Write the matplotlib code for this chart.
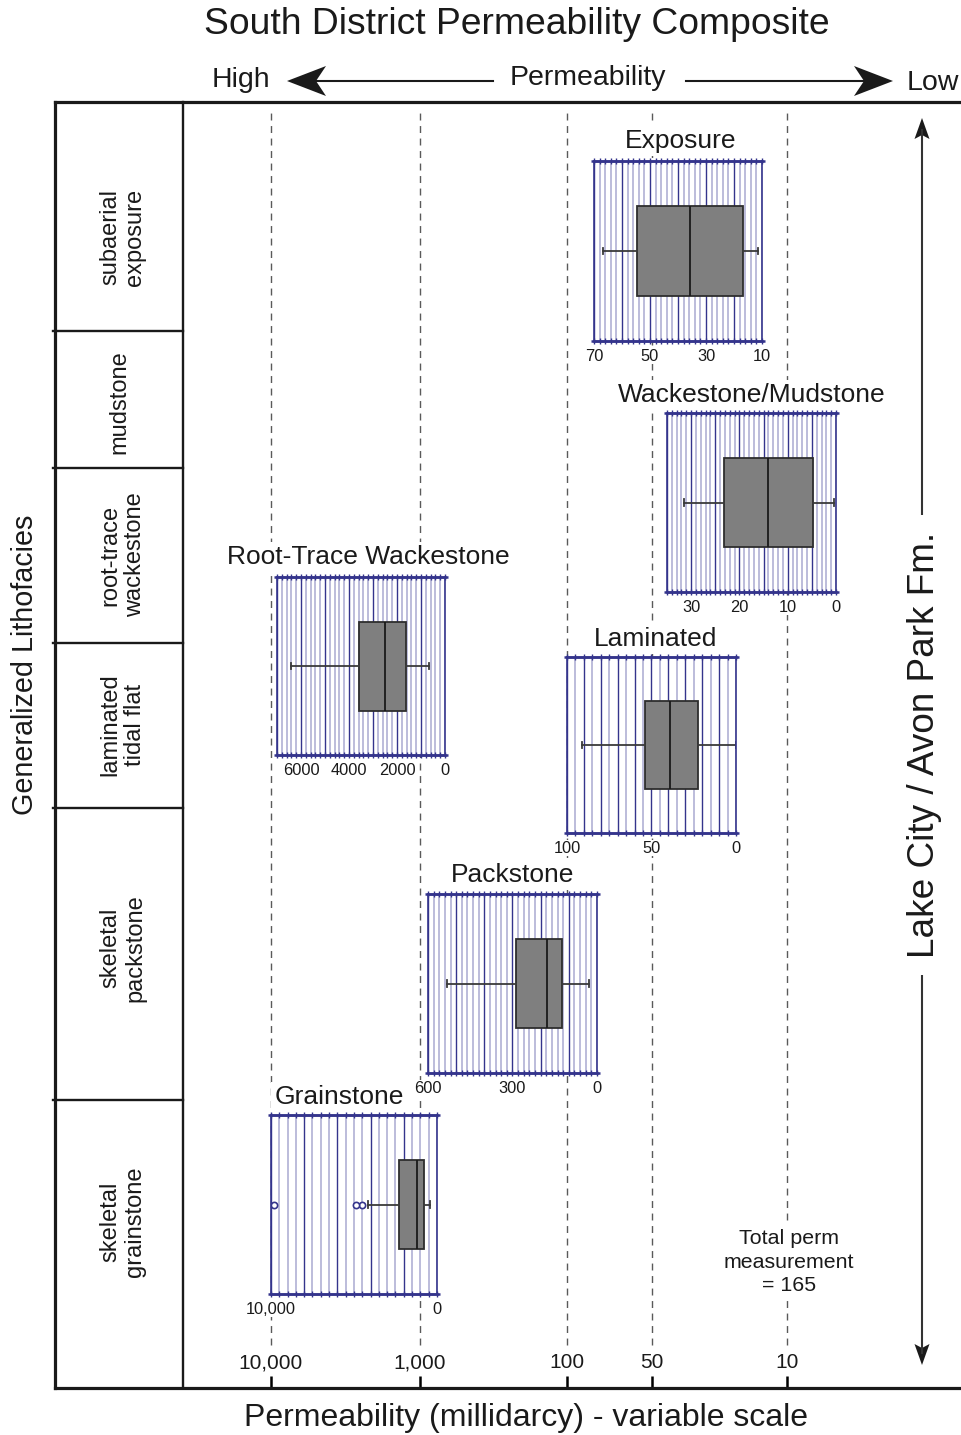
import numpy as np
import matplotlib
matplotlib.use("Agg")
import matplotlib.pyplot as plt
from matplotlib.ticker import MultipleLocator, FixedLocator, FuncFormatter, NullLocator
from matplotlib.patches import Polygon

plt.rcParams["font.family"] = ["Liberation Sans", "DejaVu Sans"]

# ---------------------------------------------------------------- data
facies = ["subaerial\nexposure", "mudstone", "root-trace\nwackestone",
          "laminated\ntidal flat", "skeletal\npackstone", "skeletal\ngrainstone"]

perm_ticks = [10000, 1000, 100, 50, 10]
perm_tick_labels = ["10,000", "1,000", "100", "50", "10"]

panel_titles = ["Exposure", "Wackestone/Mudstone", "Root-Trace Wackestone",
                "Laminated", "Packstone", "Grainstone"]
whisker_low = [11.3, 0.5, 650, 0.2, 28, 404]
quartile_1 = [16.7, 4.8, 1610, 22.7, 123, 765]
medians = [35.6, 14.0, 2490, 39.0, 177, 1187]
quartile_3 = [54.5, 23.1, 3570, 53.8, 288, 2271]
whisker_high = [66.9, 31.4, 6420, 91.1, 534, 4138]
outliers = [[], [], [], [], [], [4536, 4898, 9819]]
axis_high = [70, 35, 7000, 100, 600, 10000]
axis_low = [10, 0, 0, 0, 0, 0]
axis_labels = [[70, 50, 30, 10], [30, 20, 10, 0], [6000, 4000, 2000, 0],
               [100, 50, 0], [600, 300, 0], [10000, 5000, 0]]
total_measurements = 165

# ---------------------------------------------------------------- layout / style
W, H = 962, 1435
NAVY = "#34348c"
LAVENDER = "#b6b6d8"
INK = "#1a1a1a"

frame_px = (55, 102, 962, 1388)            # outer frame (x0, y0, x1, y1)
column_x = 183                             # right edge of lithofacies column
facies_edges = [102, 331, 468, 643, 808, 1100, 1388]
facies_label_xy = [(123, 237), (119, 402), (123, 555), (123, 725), (123, 948), (123, 1222)]
scale_anchor_px = [271, 420, 567, 652, 787]  # where the variable-scale ticks sit

panel_px = [(594, 161, 762, 341), (667, 413, 836, 592), (277, 577, 445, 755),
            (567, 657, 736, 833), (428, 894, 597, 1073), (271, 1115, 437, 1294)]
panel_title_xy = [(681, 141), (752, 395), (368, 557), (656, 639), (513, 875), (339, 1097)]
grid_major = [10, 5, 1000, 10, 100, 2000]
grid_minor = [2, 1, 200, 5, 20, 500]


def fig_rect(x0, y0, x1, y1):
    return [x0 / W, 1 - y1 / H, (x1 - x0) / W, (y1 - y0) / H]


fig = plt.figure(figsize=(W / 100, H / 100), dpi=100)

# ---------------------------------------------------------------- variable permeability scale
fx0, fy0, fx1, fy1 = frame_px
_xs = np.log10(np.array(perm_ticks, float))[::-1]                       # increasing log(k)
_ts = 1.0 - ((np.array(scale_anchor_px, float) - fx0) / (fx1 - fx0))[::-1]


def _piecewise(x, xp, fp):
    x = np.asarray(x, float)
    y = np.interp(x, xp, fp)
    lo_slope = (fp[1] - fp[0]) / (xp[1] - xp[0])
    hi_slope = (fp[-1] - fp[-2]) / (xp[-1] - xp[-2])
    y = np.where(x < xp[0], fp[0] + (x - xp[0]) * lo_slope, y)
    y = np.where(x > xp[-1], fp[-1] + (x - xp[-1]) * hi_slope, y)
    return y


def perm_forward(v):
    v = np.maximum(np.asarray(v, float), 1e-9)
    return _piecewise(np.log10(v), _xs, _ts)


def perm_inverse(t):
    return 10.0 ** _piecewise(t, _ts, _xs)


ax = fig.add_axes(fig_rect(*frame_px), zorder=1)
ax.set_xscale("function", functions=(perm_forward, perm_inverse))
ax.set_xlim(float(perm_inverse(1.0)), float(perm_inverse(0.0)))   # high permeability on the left
ax.set_ylim(0, 1)
ax.xaxis.set_major_locator(FixedLocator(perm_ticks))
ax.xaxis.set_minor_locator(NullLocator())
ax.set_xticks(perm_ticks, perm_tick_labels)
ax.set_yticks([])
ax.tick_params(axis="x", direction="in", length=9, width=1.8, color="black",
               pad=-25, labelsize=15, labelcolor=INK)
for side in ("left", "top", "bottom"):
    ax.spines[side].set_linewidth(2.3)
    ax.spines[side].set_color(INK)
ax.spines["right"].set_visible(False)
ax.vlines(perm_ticks, (fy1 - 1345) / (fy1 - fy0), (fy1 - 108) / (fy1 - fy0),
          transform=ax.get_xaxis_transform(), colors="#5a5a5a", linewidth=1.0,
          linestyles=(0, (5, 4)))

# ---------------------------------------------------------------- box-plot panels
def panel_formatter(labels):
    def fmt(v, _pos):
        for lab in labels:
            if abs(v - lab) < 1e-6:
                return f"{lab:,.0f}" if lab >= 10000 else f"{lab:.0f}"
        return ""
    return FuncFormatter(fmt)


for i in range(len(panel_titles)):
    pax = fig.add_axes(fig_rect(*panel_px[i]), zorder=2)
    pax.set_facecolor("white")
    pax.set_xlim(axis_high[i], axis_low[i])
    pax.set_ylim(0, 1)
    pax.xaxis.set_major_locator(MultipleLocator(grid_major[i]))
    pax.xaxis.set_minor_locator(MultipleLocator(grid_minor[i]))
    pax.xaxis.set_major_formatter(panel_formatter(axis_labels[i]))
    pax.grid(which="minor", axis="x", color=LAVENDER, linewidth=1.3)
    pax.grid(which="major", axis="x", color=NAVY, linewidth=1.0)
    pax.set_axisbelow(True)
    pax.tick_params(axis="x", which="both", direction="inout", length=5, width=1,
                    color=NAVY, top=True, bottom=True, labelsize=11.8, pad=3,
                    labelcolor=INK)
    pax.tick_params(axis="y", left=False, labelleft=False)
    for lbl in pax.get_xticklabels():
        lbl.set_bbox(dict(boxstyle="square,pad=0.05", facecolor="white", edgecolor="none"))
    for side in ("top", "bottom"):
        pax.spines[side].set_color(NAVY)
        pax.spines[side].set_linewidth(1.8)
    for side in ("left", "right"):
        pax.spines[side].set_color(NAVY)
        pax.spines[side].set_linewidth(1.2)
    for yy in (0, 1):
        pax.plot([-0.02, 1.02], [yy, yy], transform=pax.transAxes, color=NAVY,
                 linewidth=1.8, clip_on=False, solid_capstyle="butt")

    stats = dict(med=medians[i], q1=quartile_1[i], q3=quartile_3[i],
                 whislo=whisker_low[i], whishi=whisker_high[i], fliers=outliers[i])
    pax.bxp([stats], positions=[0.5], widths=[0.5], orientation="horizontal",
            patch_artist=True, capwidths=[0.035], manage_ticks=False,
            boxprops=dict(facecolor="#7f7f7f", edgecolor="#2e2e2e", linewidth=1.3),
            medianprops=dict(color=INK, linewidth=1.3),
            whiskerprops=dict(color="#3a3a3a", linewidth=1.3),
            capprops=dict(color="#3a3a3a", linewidth=1.3),
            flierprops=dict(marker="o", markerfacecolor="white",
                            markeredgecolor=NAVY, markersize=4.5,
                            markeredgewidth=1.2))

# ---------------------------------------------------------------- annotation layer
lay = fig.add_axes([0, 0, 1, 1], zorder=3)
lay.set_xlim(0, W)
lay.set_ylim(H, 0)
lay.axis("off")

white_box = dict(boxstyle="square,pad=0.12", facecolor="white", edgecolor="none")

# lithofacies column
lay.plot([column_x, column_x], [fy0, fy1], color=INK, linewidth=1.7)
for y in facies_edges[1:-1]:
    lay.plot([fx0 - 2, column_x], [y, y], color=INK, linewidth=1.7)
for lab, (x, y) in zip(facies, facies_label_xy):
    lay.text(x, y, lab, rotation=90, ha="center", va="center", fontsize=17,
             multialignment="center", linespacing=1.15, color=INK)

for title, (x, y) in zip(panel_titles, panel_title_xy):
    lay.text(x, y, title, ha="center", va="center", fontsize=19, color=INK,
             bbox=white_box)

lay.text(517, 24, "South District Permeability Composite", ha="center", va="center",
         fontsize=26.8, color=INK)
lay.text(241, 80, "High", ha="center", va="center", fontsize=20.5, color=INK)
lay.text(588, 78, "Permeability", ha="center", va="center", fontsize=20.5, color=INK)
lay.text(933, 83, "Low", ha="center", va="center", fontsize=20.5, color=INK)
lay.text(526, 1418, "Permeability (millidarcy) - variable scale", ha="center",
         va="center", fontsize=23, color=INK)
lay.text(25, 665, "Generalized Lithofacies", rotation=90, ha="center", va="center",
         fontsize=20.7, color=INK)
lay.text(789, 1262, f"Total perm\nmeasurement\n= {total_measurements}", ha="center",
         va="center", fontsize=15.4, linespacing=1.3, color=INK,
         bbox=dict(boxstyle="square,pad=0.3", facecolor="white", edgecolor="none"))


def stealth_head(tip, direction, length, half_width, notch):
    """Notched arrowhead; direction is a unit (dx, dy) pointing at the tip."""
    tx, ty = tip
    dx, dy = direction
    nx, ny = -dy, dx
    bx, by = tx - dx * length, ty - dy * length
    pts = [(tx, ty),
           (bx + nx * half_width, by + ny * half_width),
           (tx - dx * (length - notch), ty - dy * (length - notch)),
           (bx - nx * half_width, by - ny * half_width)]
    lay.add_patch(Polygon(pts, closed=True, facecolor=INK, edgecolor="none"))


# permeability direction arrows
lay.plot([310, 493], [81, 81], color=INK, linewidth=1.5)
stealth_head((287, 81), (-1, 0), 39, 15, 10)
lay.plot([686, 870], [81, 81], color=INK, linewidth=1.5)
stealth_head((893, 81), (1, 0), 39, 15, 10)

# formation arrow on the right
lay.plot([922, 922], [130, 1353], color="#333333", linewidth=1.5)
stealth_head((922, 118), (0, -1), 21, 7.5, 4)
stealth_head((922, 1365), (0, 1), 21, 7.5, 4)
lay.text(925, 745, "Lake City / Avon Park Fm.", rotation=90, ha="center", va="center",
         fontsize=26.6, color=INK,
         bbox=dict(boxstyle="square,pad=0.45", facecolor="white", edgecolor="none"))

fig.savefig("out.png", dpi=100)
